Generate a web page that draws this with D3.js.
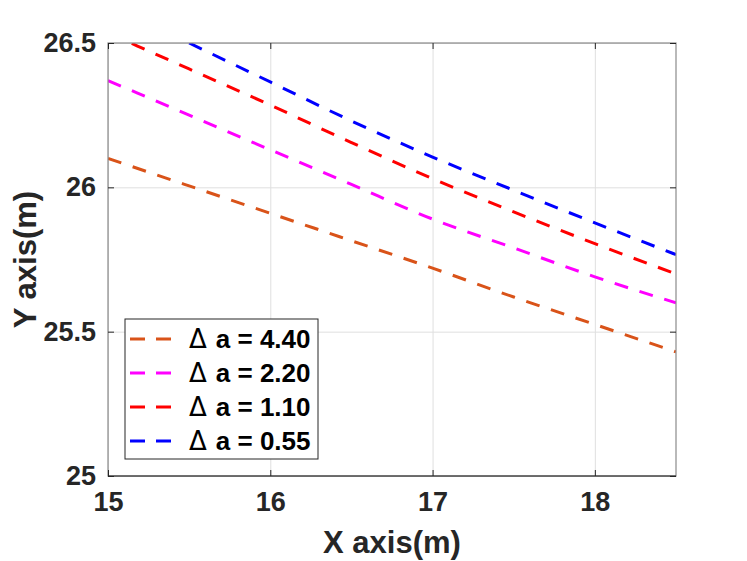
<!DOCTYPE html>
<html>
<head>
<meta charset="UTF-8">
<title>Y axis vs X axis</title>
<script src="https://cdn.jsdelivr.net/npm/d3@7"></script>
<style>
    body { margin: 0; background: #fff; }
    text { font-family: "Liberation Sans", Arial, sans-serif; font-weight: bold; }
    .grid line { stroke: #dfdfdf; stroke-width: 1; }
    .grid path { display: none; }
    .tick text { fill: #262626; }
</style>
</head>
<body>
<script>
    // values
    var xValues = [15, 15.5, 16, 16.5, 17, 17.5, 18, 18.5];
    var seriesNames = ["4.40", "2.20", "1.10", "0.55"];
    var seriesColors = ["#D95319", "#FF00FF", "#FF0000", "#0000FF"];
    var y440 = [26.10, 26.005, 25.91, 25.815, 25.72, 25.62, 25.525, 25.43];
    var y220 = [26.37, 26.25, 26.13, 26.01, 25.89, 25.79, 25.69, 25.60];
    var y110 = [26.535, 26.41, 26.285, 26.155, 26.03, 25.915, 25.805, 25.70];
    var y055 = [null, 26.50, 26.365, 26.23, 26.105, 25.99, 25.877, 25.767];
    var xTicks = [15, 16, 17, 18];
    var yTicks = [25, 25.5, 26, 26.5];

    var W = 747, H = 561;
    var margin = {top: 43, right: 71, bottom: 85, left: 108},
        width = W - margin.left - margin.right,
        height = H - margin.top - margin.bottom;

    var x = d3.scaleLinear().domain([15, 18.5]).range([0, width]);
    var y = d3.scaleLinear().domain([25, 26.5]).range([height, 0]);

    var svg = d3.select("body").append("svg")
        .attr("width", W)
        .attr("height", H);

    var g = svg.append("g")
        .attr("transform", `translate(${margin.left},${margin.top})`);

    g.append("clipPath").attr("id", "plot-clip")
        .append("rect").attr("width", width).attr("height", height);

    // grid
    g.append("g").attr("class", "grid")
        .attr("transform", `translate(0,${height})`)
        .call(d3.axisBottom(x).tickValues(xTicks).tickSize(-height).tickFormat(""));
    g.append("g").attr("class", "grid")
        .call(d3.axisLeft(y).tickValues(yTicks).tickSize(-width).tickFormat(""));

    // lines
    var allSeries = [y440, y220, y110, y055];
    var line = d3.line()
        .defined((d) => d[1] !== null)
        .x((d) => x(d[0]))
        .y((d) => y(d[1]))
        .curve(d3.curveMonotoneX);

    g.append("g").attr("clip-path", "url(#plot-clip)")
        .selectAll("path")
        .data(allSeries)
        .enter().append("path")
        .attr("fill", "none")
        .attr("stroke", (d, i) => seriesColors[i])
        .attr("stroke-width", 3)
        .attr("stroke-dasharray", "14,12")
        .attr("d", (d) => line(d.map((v, i) => [xValues[i], v])));

    // box
    g.append("rect")
        .attr("width", width).attr("height", height)
        .attr("fill", "none").attr("stroke", "#8a8a8a").attr("stroke-width", 1.2);
    g.append("line")
        .attr("x1", 0).attr("x2", width).attr("y1", height).attr("y2", height)
        .attr("stroke", "#262626").attr("stroke-width", 1.2);

    // axes with inward ticks
    var fontSize = 27;
    var xAxis = g.append("g")
        .attr("transform", `translate(0,${height})`)
        .call(d3.axisBottom(x).tickValues(xTicks).tickSize(-6).tickPadding(16).tickFormat(d3.format("d")));
    var yAxis = g.append("g")
        .call(d3.axisLeft(y).tickValues(yTicks).tickSize(-6).tickPadding(12).tickFormat((d) => String(d)));
    g.append("g")
        .call(d3.axisTop(x).tickValues(xTicks).tickSize(-6).tickFormat(""));
    g.append("g")
        .attr("transform", `translate(${width},0)`)
        .call(d3.axisRight(y).tickValues(yTicks).tickSize(-6).tickFormat(""));

    g.selectAll(".domain").remove();
    g.selectAll(".tick line").attr("stroke", "#262626");
    g.selectAll(".grid .tick line").attr("stroke", "#dfdfdf");
    xAxis.selectAll("text").style("font-size", fontSize + "px");
    yAxis.selectAll("text").style("font-size", fontSize + "px");

    // axis labels
    svg.append("text")
        .attr("x", margin.left + width / 2)
        .attr("y", 553)
        .attr("text-anchor", "middle")
        .attr("fill", "#262626")
        .style("font-size", "31px")
        .text("X axis(m)");
    svg.append("text")
        .attr("transform", `translate(36,${margin.top + height / 2}) rotate(-90)`)
        .attr("text-anchor", "middle")
        .attr("fill", "#262626")
        .style("font-size", "31px")
        .text("Y axis(m)");

    // legend
    var legend = svg.append("g").attr("transform", "translate(125,319)");
    legend.append("rect")
        .attr("width", 193).attr("height", 140)
        .attr("fill", "#fff").attr("stroke", "#262626").attr("stroke-width", 1);
    var items = legend.selectAll("g.item")
        .data(seriesNames)
        .enter().append("g")
        .attr("class", "item")
        .attr("transform", (d, i) => `translate(0,${20 + i * 34})`);
    items.append("line")
        .attr("x1", 5).attr("x2", 46)
        .attr("stroke", (d, i) => seriesColors[i])
        .attr("stroke-width", 3)
        .attr("stroke-dasharray", "15,11");
    var label = items.append("text")
        .attr("x", 64)
        .attr("dy", "0.36em")
        .attr("fill", "#000")
        .style("font-size", "26px");
    label.append("tspan")
        .style("font-family", "'DejaVu Sans', sans-serif")
        .style("font-weight", "normal")
        .text("\u0394");
    label.append("tspan")
        .attr("dx", 9)
        .text((d) => "a = " + d);
</script>
</body>
</html>
